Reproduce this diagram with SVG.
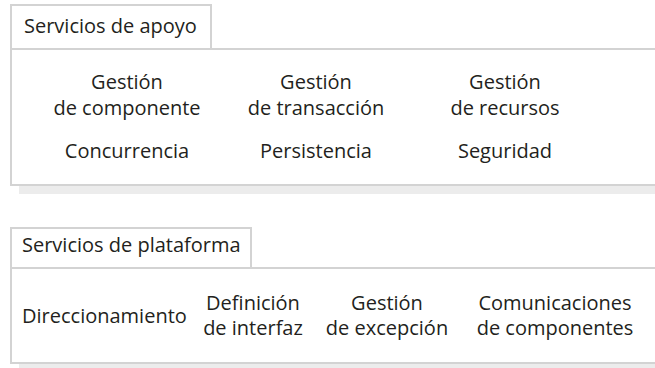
<svg xmlns="http://www.w3.org/2000/svg" width="655" height="368" viewBox="0 0 655 368">
<style>
.box{fill:#ffffff;stroke:#d3d3d3;stroke-width:2}
.shadow{fill:#ececec;stroke:none}
text{font-family:"Open Sans","DejaVu Sans",sans-serif;font-size:20px;fill:#231f20}
.c{text-anchor:middle}
</style>
<rect width="655" height="368" fill="#ffffff"/>
<g id="apoyo">
<rect class="shadow" x="19" y="57" width="650" height="137"/>
<rect class="box" x="11" y="49" width="660" height="136"/>
<rect class="box" x="11" y="5" width="200" height="44"/>
<text x="24" y="33">Servicios de apoyo</text>
</g>
<g id="gestion-componente"><text class="c" x="127" y="89">Gestión</text><text class="c" x="127" y="115">de componente</text></g>
<g id="gestion-transaccion"><text class="c" x="316" y="89">Gestión</text><text class="c" x="316" y="115">de transacción</text></g>
<g id="gestion-recursos"><text class="c" x="505" y="89">Gestión</text><text class="c" x="505" y="115">de recursos</text></g>
<g id="concurrencia"><text class="c" x="127" y="158">Concurrencia</text></g>
<g id="persistencia"><text class="c" x="316" y="158">Persistencia</text></g>
<g id="seguridad"><text class="c" x="505" y="158">Seguridad</text></g>
<g id="plataforma">
<rect class="shadow" x="19" y="276" width="650" height="100"/>
<rect class="box" x="11" y="268" width="660" height="95"/>
<rect class="box" x="11" y="228" width="240" height="40"/>
<text x="22" y="252">Servicios de plataforma</text>
</g>
<g id="direccionamiento"><text x="22" y="323">Direccionamiento</text></g>
<g id="definicion-interfaz"><text class="c" x="253" y="310">Definición</text><text class="c" x="253" y="335">de interfaz</text></g>
<g id="gestion-excepcion"><text class="c" x="387" y="310">Gestión</text><text class="c" x="387" y="335">de excepción</text></g>
<g id="comunicaciones"><text class="c" x="555" y="310">Comunicaciones</text><text class="c" x="555" y="335">de componentes</text></g>
<g id="connectors"></g>
</svg>
